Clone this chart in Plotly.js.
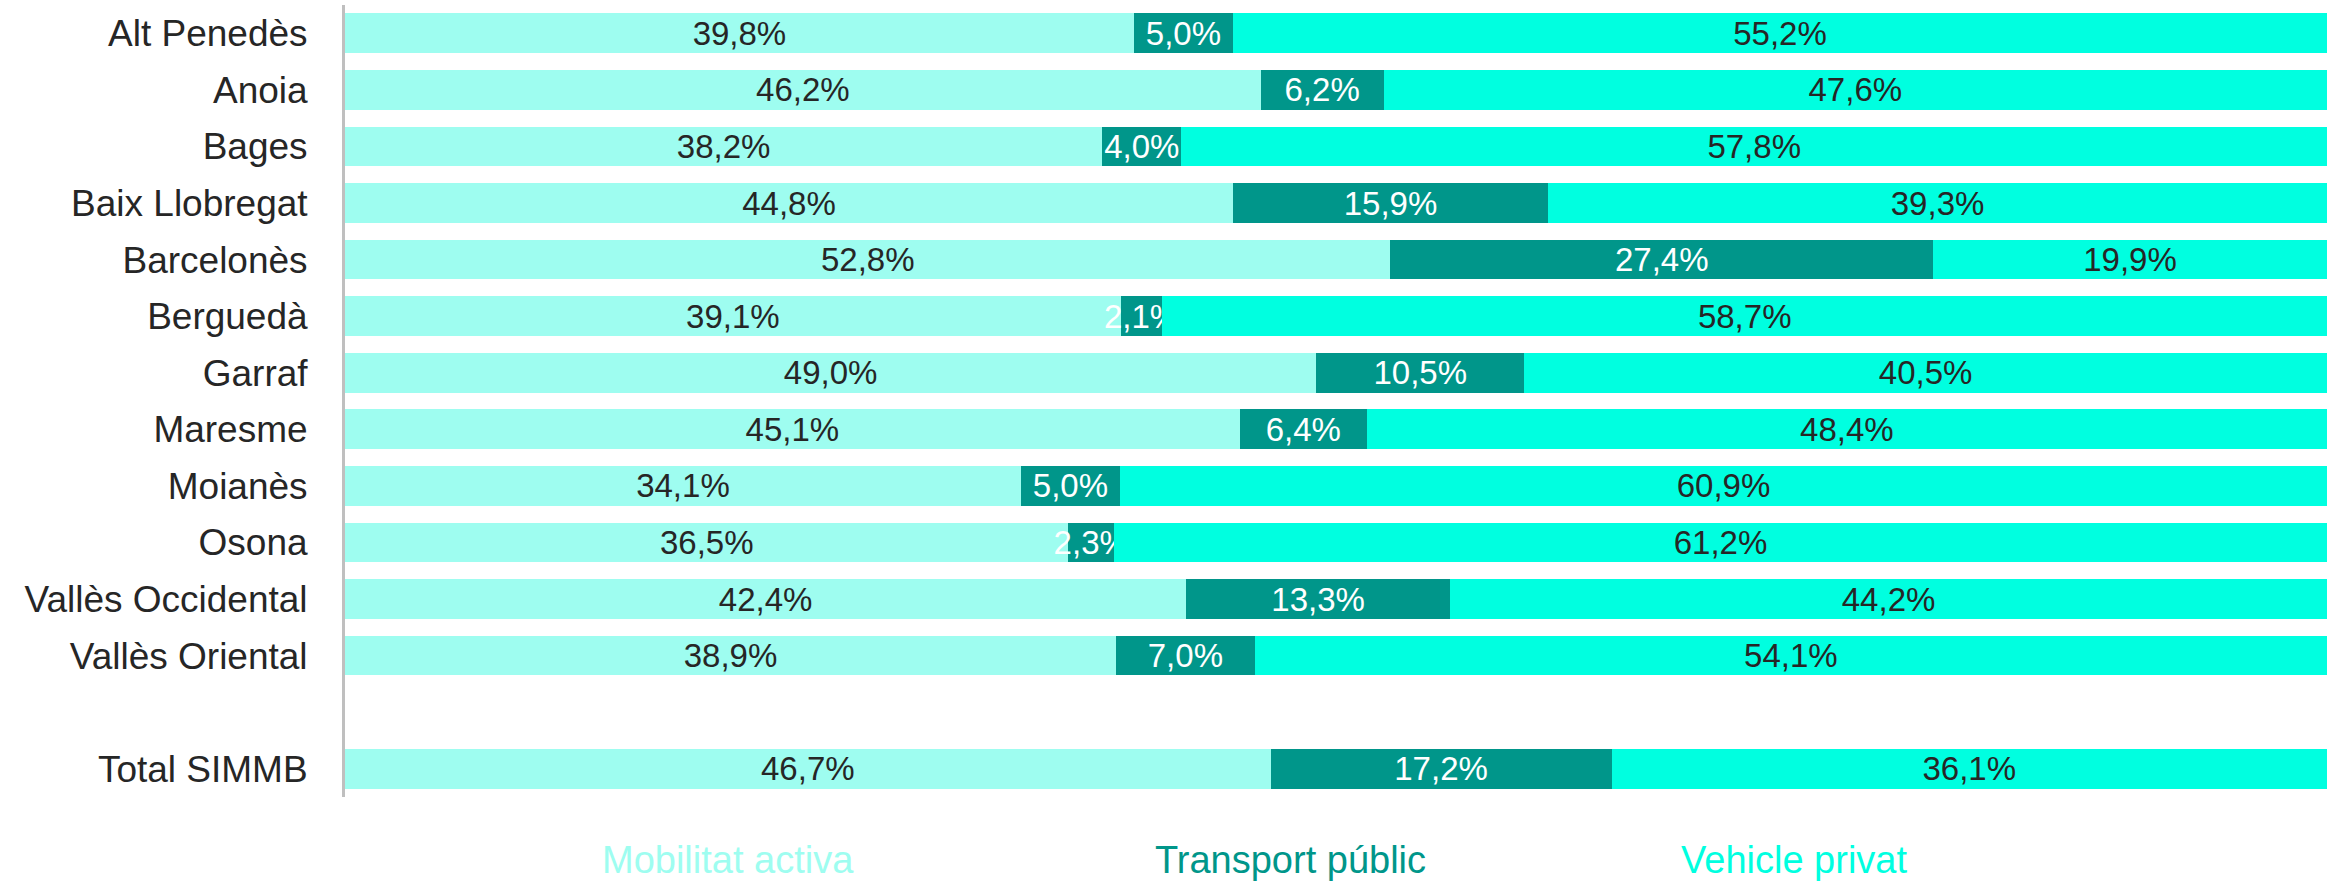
<!DOCTYPE html>
<html>
<head>
<meta charset="utf-8">
<script src="https://cdn.plot.ly/plotly-3.0.1.min.js"></script>
<style>html,body{margin:0;padding:0;background:#fff;}#chart{width:2341px;height:884px;}</style>
</head>
<body>
<div id="chart"></div>
<script>
const categories = ["Alt Penedès","Anoia","Bages","Baix Llobregat","Barcelonès","Berguedà","Garraf","Maresme","Moianès","Osona","Vallès Occidental","Vallès Oriental"," ","Total SIMMB"];
const mobilitatActiva = [39.8,46.2,38.2,44.8,52.8,39.1,49.0,45.1,34.1,36.5,42.4,38.9,null,46.7];
const transportPublic = [5.0,6.2,4.0,15.9,27.4,2.1,10.5,6.4,5.0,2.3,13.3,7.0,null,17.2];
const vehiclePrivat = [55.2,47.6,57.8,39.3,19.9,58.7,40.5,48.4,60.9,61.2,44.2,54.1,null,36.1];
const seriesNames = ["Mobilitat activa","Transport públic","Vehicle privat"];
const seriesColors = ["#9EFDF0","#00968A","#00FFE0"];
const textColors = ["#262626","#FFFFFF","#262626"];

const FONT = "Liberation Sans, Arial, sans-serif";
const fmt = v => v == null ? "" : v.toFixed(1).replace(".", ",") + "%";

const seriesValues = [mobilitatActiva, transportPublic, vehiclePrivat];
const traces = seriesValues.map((vals, i) => ({
  type: "bar",
  orientation: "h",
  name: seriesNames[i],
  y: categories,
  x: vals,
  text: vals.map(fmt),
  texttemplate: "%{text}",
  textposition: "inside",
  insidetextanchor: "middle",
  constraintext: "none",
  textfont: {family: FONT, size: 33, color: textColors[i]},
  marker: {color: seriesColors[i], line: {width: 0}},
  hoverinfo: "skip",
  cliponaxis: false
}));

const legendAnn = seriesNames.map((n, i) => ({
  xref: "paper", yref: "paper",
  x: [0.193, 0.477, 0.731][i], y: -0.08,
  xanchor: "center", yanchor: "middle",
  text: n, showarrow: false,
  font: {family: FONT, size: 38, color: seriesColors[i]}
}));

const layout = {
  width: 2341, height: 884,
  margin: {l: 345, r: 14, t: 5, b: 87},
  paper_bgcolor: "#fff", plot_bgcolor: "#fff",
  barmode: "stack",
  barnorm: "percent",
  bargap: 0.3,
  showlegend: false,
  uniformtext: {mode: "show", minsize: 33},
  xaxis: {range: [0, 100], visible: false, fixedrange: true},
  yaxis: {
    type: "category",
    categoryorder: "array",
    categoryarray: categories,
    autorange: "reversed",
    showline: true, linecolor: "#BFBFBF", linewidth: 3,
    showgrid: false, zeroline: false,
    ticks: "", ticklabelstandoff: 27,
    tickfont: {family: FONT, size: 37, color: "#262626"}
  },
  font: {family: FONT},
  annotations: legendAnn
};

Plotly.newPlot("chart", traces, layout, {staticPlot: true, displayModeBar: false});
</script>
</body>
</html>
